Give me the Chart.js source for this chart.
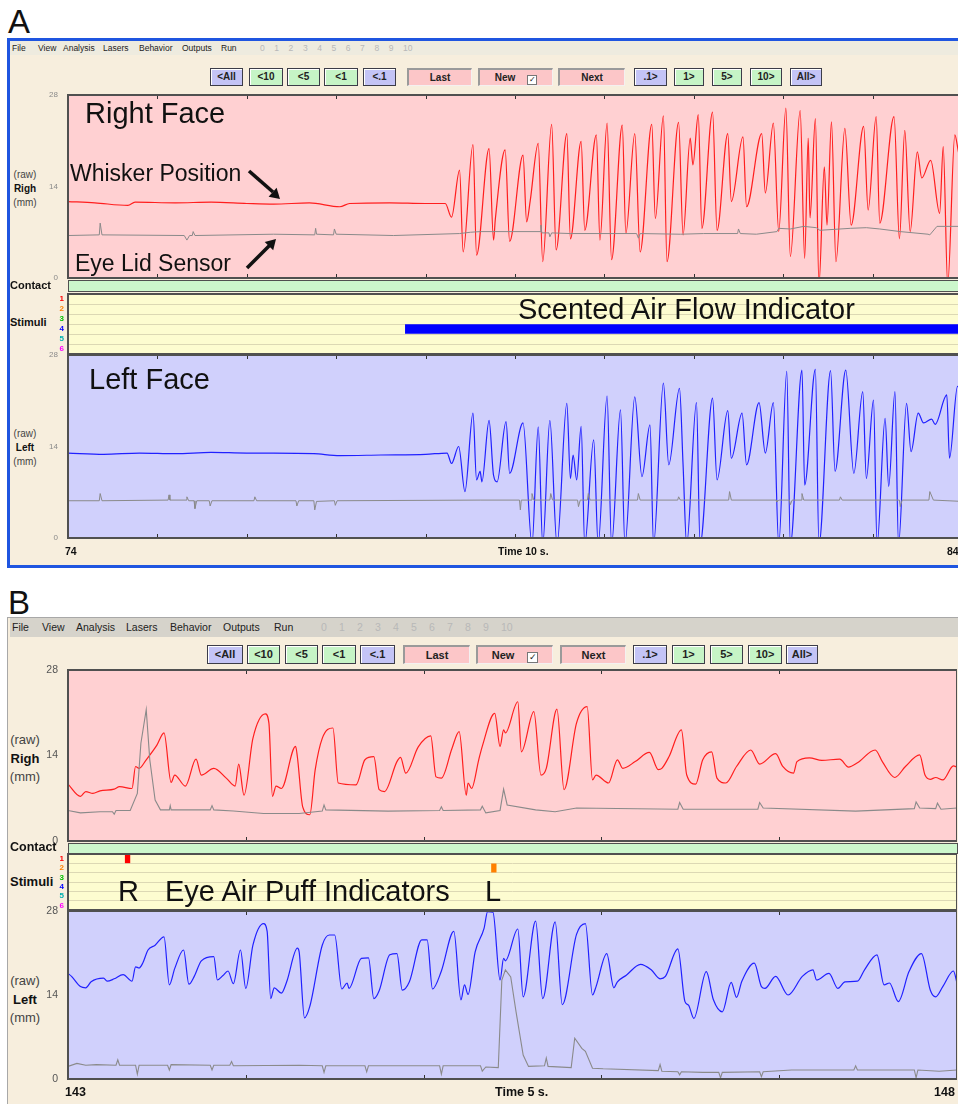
<!DOCTYPE html>
<html>
<head>
<meta charset="utf-8">
<script src="https://cdn.jsdelivr.net/npm/chart.js@4.4.0/dist/chart.umd.min.js"></script>
<style>
  html, body { margin: 0; padding: 0; width: 958px; height: 1104px; overflow: hidden; background: #fff; }
  #page { position: relative; width: 958px; height: 1104px; overflow: hidden; font-family: "Liberation Sans", Arial, sans-serif; }
  #page div, #page canvas { position: absolute; }
  .btn { box-sizing: border-box; font-family: "Liberation Sans Narrow", "Liberation Sans", sans-serif; font-weight: bold; color: #222; text-align: center; }
</style>
</head>
<body>
<div id="page"></div>
<script>
// ---- tick labels / categories ----
const aTimeTicks = [74, 75, 76, 77, 78, 79, 80, 81, 82, 83, 84];
const bTimeTicks = [143, 144, 145, 146, 147, 148];
const yTicks = [0, 14, 28];
const stimRows = ['1', '2', '3', '4', '5', '6'];
const stimRowColors = ['#ff0000', '#ff8000', '#00c000', '#0000ff', '#00b0b0', '#ff00ff'];
const menuItems = ['File', 'View', 'Analysis', 'Lasers', 'Behavior', 'Outputs', 'Run'];
const menuDigits = ['0', '1', '2', '3', '4', '5', '6', '7', '8', '9', '10'];
const buttonLabels = ['<All', '<10', '<5', '<1', '<.1', 'Last', 'New', 'Next', '.1>', '1>', '5>', '10>', 'All>'];

// ---- panel A series [time s, mm] ----
const aRightWhisker = [[74.00,11.7],[74.30,11.5],[74.67,11.1],[74.75,11.6],[75.20,11.5],[75.60,11.6],[76.00,11.4],[76.30,11.3],[76.70,11.5],[77.04,10.9],[77.15,11.4],[77.60,11.5],[78.00,11.4],[78.22,11.4],[78.29,9.3],[78.38,16.5],[78.42,4.0],[78.53,20.4],[78.57,3.5],[78.71,19.8],[78.76,5.8],[78.78,9.0],[78.89,19.6],[78.94,5.6],[79.09,18.8],[79.13,8.6],[79.17,11.8],[79.26,20.6],[79.31,2.5],[79.41,23.5],[79.46,4.3],[79.58,22.1],[79.62,6.0],[79.74,20.9],[79.78,7.3],[79.91,21.9],[79.95,5.8],[80.03,23.7],[80.08,2.8],[80.20,23.4],[80.24,6.8],[80.34,22.1],[80.40,4.0],[80.53,23.5],[80.57,9.1],[80.66,24.8],[80.70,2.5],[80.83,23.8],[80.88,6.6],[80.96,21.4],[80.99,17.3],[81.05,25.0],[81.09,7.6],[81.21,25.4],[81.26,7.3],[81.38,22.1],[81.42,11.7],[81.55,21.6],[81.59,10.9],[81.76,22.1],[81.80,13.0],[81.89,23.7],[81.95,7.1],[82.03,26.0],[82.08,3.3],[82.19,25.6],[82.24,3.0],[82.28,21.4],[82.30,9.2],[82.36,24.4],[82.40,-1],[82.46,17.0],[82.49,8.1],[82.54,23.9],[82.59,2.5],[82.69,22.9],[82.76,8.1],[82.90,23.2],[82.95,10.4],[83.04,24.7],[83.08,8.4],[83.24,24.7],[83.30,6.0],[83.36,22.6],[83.42,7.1],[83.50,19.3],[83.55,15.3],[83.65,18.0],[83.75,9.9],[83.79,20.1],[83.84,-1],[83.92,21.9],[83.96,19.3],[84.00,17.0]];
const aRightLid = [[74.00,6.5],[74.35,6.6],[74.36,8.4],[74.38,6.6],[75.30,6.5],[75.33,5.8],[75.36,6.5],[75.39,6.5],[75.40,7.1],[75.42,6.5],[76.30,6.7],[76.76,6.6],[76.77,7.6],[76.78,6.7],[76.97,6.6],[76.98,7.5],[77.00,6.7],[77.64,6.5],[78.38,6.8],[78.50,7.0],[78.61,7.1],[79.28,7.1],[79.29,8.1],[79.30,6.9],[79.38,6.9],[79.39,6.3],[79.41,6.9],[79.62,6.8],[80.36,6.8],[80.38,6.1],[80.40,6.8],[80.85,6.7],[81.11,6.8],[81.49,6.8],[81.50,7.5],[81.52,6.8],[81.70,6.7],[81.93,7.1],[81.95,7.6],[82.08,7.5],[82.23,7.9],[82.37,7.7],[82.41,7.3],[82.75,7.6],[82.93,7.7],[83.08,7.5],[83.31,7.1],[83.62,6.7],[83.64,6.6],[83.72,7.9],[83.96,7.9],[84.00,7.9]];
const aLeftWhisker = [[74.00,13.0],[74.40,12.8],[74.80,13.0],[75.20,12.9],[75.60,13.1],[76.00,13.0],[76.30,13.0],[76.75,12.9],[77.04,12.6],[77.50,12.7],[78.00,12.8],[78.24,13.0],[78.29,11.4],[78.37,14.0],[78.44,7.1],[78.53,19.1],[78.57,8.9],[78.61,10.2],[78.63,8.6],[78.71,18.0],[78.76,9.6],[78.80,8.6],[78.90,17.8],[78.94,9.9],[79.09,17.6],[79.19,-1],[79.26,17.0],[79.31,-1],[79.39,18.0],[79.47,-1],[79.58,20.6],[79.62,9.1],[79.65,12.7],[79.69,8.9],[79.74,17.1],[79.78,-1],[79.88,15.0],[79.93,-1],[80.03,21.7],[80.08,-1],[80.18,19.6],[80.23,-1],[80.34,21.6],[80.42,9.4],[80.51,17.3],[80.55,-1],[80.66,23.7],[80.72,11.2],[80.84,22.9],[80.88,11.2],[80.92,-1],[81.03,20.7],[81.07,-1],[81.21,21.4],[81.26,8.9],[81.38,19.5],[81.42,12.2],[81.54,19.1],[81.59,11.2],[81.73,20.7],[81.80,13.0],[81.89,20.7],[81.95,-1],[82.04,25.5],[82.08,-1],[82.21,25.7],[82.24,8.1],[82.36,25.8],[82.40,-1],[82.53,25.6],[82.58,10.2],[82.70,25.7],[82.79,9.9],[82.89,22.4],[82.93,9.1],[83.01,21.1],[83.05,-1],[83.14,18.3],[83.18,7.9],[83.25,22.4],[83.29,-1],[83.38,20.6],[83.43,13.2],[83.51,19.1],[83.57,17.6],[83.66,18.2],[83.70,17.4],[83.83,21.9],[83.86,12.2],[83.95,23.2],[84.00,22.0]];
const aLeftLid = [[74.00,5.7],[74.35,5.7],[74.36,6.8],[74.38,5.7],[75.12,5.8],[75.13,6.6],[75.14,5.8],[75.32,5.8],[75.33,6.3],[75.35,5.7],[75.41,5.7],[75.42,4.5],[75.44,5.7],[75.58,5.7],[75.59,4.9],[75.61,5.7],[76.08,5.7],[76.09,6.3],[76.11,5.7],[76.55,5.7],[76.56,4.9],[76.58,5.7],[76.75,5.7],[76.76,4.3],[76.78,5.6],[76.98,5.7],[76.99,5.0],[77.01,5.7],[78.61,5.8],[79.05,5.8],[79.06,4.3],[79.07,5.8],[79.18,5.8],[79.19,6.8],[79.21,5.8],[79.39,5.8],[79.40,6.8],[79.42,5.8],[79.70,5.8],[79.71,4.8],[79.73,5.8],[79.81,5.8],[79.82,6.8],[79.84,5.8],[80.37,5.8],[80.38,6.8],[80.40,5.8],[80.82,5.8],[80.83,6.3],[80.85,5.8],[81.39,5.8],[81.40,7.1],[81.42,5.8],[81.92,5.8],[81.93,5.5],[81.95,5.8],[82.07,5.8],[82.08,5.1],[82.10,5.8],[82.20,5.8],[82.21,6.8],[82.23,5.8],[82.63,5.8],[82.64,6.3],[82.66,5.8],[83.30,5.8],[83.31,4.8],[83.33,5.8],[83.63,5.8],[83.64,7.1],[83.68,5.8],[84.00,5.6]];
const aStimBars = [null, null, null, [77.77, 85], null, null];

// ---- panel B series [time s, mm] ----
const bRightWhisker = [[143.00,9.3],[143.07,7.3],[143.10,8.1],[143.14,7.8],[143.18,8.2],[143.26,8.5],[143.29,8.9],[143.36,8.6],[143.38,12.2],[143.40,11.9],[143.44,13.3],[143.50,15.7],[143.54,17.7],[143.58,9.6],[143.60,10.8],[143.66,9.0],[143.72,13.4],[143.75,10.8],[143.82,11.9],[143.89,10.3],[143.94,9.0],[143.96,12.6],[143.99,7.5],[144.04,16.8],[144.11,20.8],[144.13,19.3],[144.15,7.3],[144.17,9.0],[144.20,8.6],[144.28,15.5],[144.29,13.8],[144.32,5.6],[144.36,4.3],[144.39,11.6],[144.43,16.8],[144.49,18.5],[144.52,9.5],[144.62,9.2],[144.67,13.3],[144.72,13.8],[144.75,8.4],[144.78,8.1],[144.85,13.0],[144.87,13.7],[144.90,11.1],[144.97,15.4],[145.04,17.2],[145.07,10.5],[145.10,10.3],[145.16,15.2],[145.20,17.9],[145.24,7.5],[145.25,9.5],[145.27,8.6],[145.31,13.3],[145.33,15.5],[145.40,20.9],[145.43,15.5],[145.45,18.2],[145.46,17.7],[145.53,22.8],[145.55,14.6],[145.62,21.2],[145.66,10.8],[145.69,11.9],[145.75,21.6],[145.79,8.4],[145.86,19.3],[145.92,22.0],[145.95,10.0],[145.97,10.8],[146.04,9.5],[146.09,13.3],[146.12,11.9],[146.19,13.0],[146.27,14.5],[146.32,11.7],[146.34,11.9],[146.38,13.8],[146.45,18.2],[146.48,10.8],[146.53,9.3],[146.57,13.3],[146.62,14.6],[146.65,10.3],[146.70,9.5],[146.76,12.2],[146.84,14.9],[146.89,12.6],[146.98,14.3],[147.02,12.2],[147.08,11.1],[147.10,13.0],[147.17,13.6],[147.24,13.2],[147.34,13.4],[147.39,12.1],[147.44,12.8],[147.54,14.9],[147.58,13.0],[147.65,10.4],[147.71,12.2],[147.79,14.1],[147.82,10.8],[147.85,10.1],[147.88,10.4],[147.92,10.0],[147.98,12.3],[148.00,12.1]];
const bRightLid = [[143.00,5.0],[143.07,4.6],[143.18,4.8],[143.25,4.8],[143.26,4.4],[143.27,5.0],[143.35,5.0],[143.39,7.8],[143.41,16.0],[143.44,21.5],[143.46,13.3],[143.49,6.7],[143.52,5.1],[143.57,5.1],[143.575,5.8],[143.58,5.1],[143.80,5.1],[143.81,5.8],[143.82,5.1],[143.93,4.9],[144.10,4.5],[144.30,4.5],[144.43,4.9],[144.44,5.9],[144.45,5.1],[144.80,4.9],[145.09,5.0],[145.10,5.6],[145.11,5.0],[145.32,5.1],[145.33,5.7],[145.35,4.6],[145.43,5.0],[145.45,8.5],[145.47,5.9],[145.63,5.1],[145.74,4.8],[145.86,5.4],[146.43,5.2],[146.44,6.3],[146.46,5.2],[146.88,5.2],[146.89,6.3],[146.91,5.4],[147.43,4.9],[147.76,5.3],[147.77,6.4],[147.79,5.4],[147.88,5.3],[147.89,6.2],[147.91,5.2],[148.00,5.4]];
const bLeftWhisker = [[143.00,17.6],[143.02,17.1],[143.07,15.4],[143.10,15.2],[143.13,16.2],[143.20,16.8],[143.22,16.3],[143.26,16.7],[143.31,17.4],[143.36,16.3],[143.38,18.7],[143.40,18.5],[143.42,19.3],[143.45,21.5],[143.49,22.3],[143.54,23.7],[143.57,15.7],[143.60,18.4],[143.65,21.5],[143.68,15.8],[143.71,17.1],[143.75,19.7],[143.82,20.4],[143.84,16.5],[143.87,17.2],[143.90,18.0],[143.93,15.9],[143.97,21.5],[144.00,15.1],[144.04,22.3],[144.10,25.9],[144.12,24.6],[144.14,13.4],[144.16,15.2],[144.20,14.3],[144.23,16.2],[144.29,21.8],[144.30,21.2],[144.33,10.2],[144.36,12.1],[144.43,22.3],[144.47,24.0],[144.50,24.0],[144.54,15.0],[144.57,16.0],[144.58,15.1],[144.65,20.1],[144.69,20.2],[144.72,13.4],[144.75,14.7],[144.81,20.7],[144.85,20.9],[144.88,14.8],[144.92,16.2],[144.99,23.2],[145.02,23.2],[145.05,15.0],[145.10,18.0],[145.17,24.6],[145.21,13.2],[145.23,15.7],[145.25,14.1],[145.29,21.2],[145.34,25.1],[145.36,27.9],[145.39,27.8],[145.43,16.5],[145.45,20.1],[145.46,19.7],[145.53,25.0],[145.56,13.7],[145.63,26.3],[145.67,13.4],[145.74,26.2],[145.78,12.4],[145.86,24.1],[145.91,25.9],[145.95,14.0],[145.97,15.4],[146.03,20.9],[146.07,15.2],[146.09,16.2],[146.14,17.3],[146.22,19.1],[146.28,18.2],[146.33,16.7],[146.36,17.1],[146.43,21.7],[146.47,12.9],[146.49,12.3],[146.52,10.1],[146.59,17.9],[146.63,13.2],[146.68,11.2],[146.73,16.1],[146.76,13.6],[146.79,16.3],[146.86,19.3],[146.90,15.4],[146.92,15.1],[146.98,17.1],[147.05,14.0],[147.13,17.1],[147.19,18.2],[147.21,16.5],[147.28,17.6],[147.33,15.1],[147.37,16.2],[147.44,16.3],[147.48,18.2],[147.55,20.7],[147.59,15.7],[147.62,16.0],[147.67,12.9],[147.73,17.9],[147.80,20.9],[147.85,14.8],[147.88,13.7],[147.92,15.4],[147.98,18.0],[148.00,16.0]];
const bLeftLid = [[143.00,2.1],[143.05,2.6],[143.10,2.3],[143.16,2.4],[143.27,2.3],[143.28,3.2],[143.29,2.3],[143.38,2.3],[143.39,0.8],[143.40,2.3],[143.56,2.3],[143.57,1.5],[143.58,2.4],[143.80,2.3],[143.81,1.5],[143.82,2.3],[143.91,2.3],[143.92,2.9],[143.93,2.2],[144.30,2.3],[144.43,2.2],[144.44,1.1],[144.45,2.2],[144.67,2.2],[144.68,1.2],[144.69,2.2],[145.09,2.2],[145.10,0.8],[145.11,2.2],[145.32,2.2],[145.33,1.3],[145.35,2.0],[145.42,1.9],[145.44,16.5],[145.46,18.2],[145.49,17.0],[145.52,11.2],[145.56,4.0],[145.59,2.1],[145.68,2.2],[145.69,3.5],[145.70,2.1],[145.83,1.9],[145.85,6.8],[145.89,5.1],[145.91,4.6],[145.95,1.8],[146.01,1.7],[146.32,1.4],[146.33,2.4],[146.34,1.3],[146.43,1.2],[146.44,0.7],[146.45,1.2],[146.57,1.1],[146.66,1.1],[146.67,0.2],[146.68,1.1],[146.89,1.2],[146.90,0.4],[146.91,1.2],[147.07,1.5],[147.32,1.5],[147.42,1.5],[147.43,2.2],[147.44,1.5],[147.76,1.5],[147.77,0.2],[147.78,1.5],[147.90,1.3],[148.00,1.5]];
const bStimBars = [[143.32, 143.35], [145.38, 145.41], null, null, null, null];

// ---- page helpers ----
const page = document.getElementById('page');
function put(x, y, w, h, css, html) {
  const d = document.createElement('div');
  d.style.left = x + 'px'; d.style.top = y + 'px';
  if (w != null) d.style.width = w + 'px';
  if (h != null) d.style.height = h + 'px';
  if (css) d.style.cssText += css;
  if (html != null) d.innerHTML = html;
  page.appendChild(d);
  return d;
}
// text placed by baseline
function txt(x, base, size, str, css) {
  return put(x, base - 0.85 * size, null, null, 'font-size:' + size + 'px;line-height:' + size + 'px;white-space:nowrap;' + (css || ''), str);
}
function esc(s) { return s.replace(/</g, '&lt;').replace(/>/g, '&gt;'); }

const btnKind = ['b', 'g', 'g', 'g', 'b', 'p', 'p', 'p', 'b', 'g', 'g', 'g', 'b'];
const btnBg = { b: '#c4c4f6', g: '#c6f4c6', p: '#fcc6c8' };
function buttons(xs, ws, y, h, size) {
  buttonLabels.forEach((lab, i) => {
    const k = btnKind[i];
    const border = k === 'p'
      ? 'border-top:2px solid #9a9a9a;border-left:2px solid #9a9a9a;border-bottom:1px solid #f4f0f0;border-right:1px solid #f4f0f0;'
      : 'border:1px solid #3c3c48;box-shadow:inset 1px 1px 0 #fff;';
    let inner = esc(lab);
    if (lab === 'New') inner = 'New<span style="display:inline-block;width:' + (size - 2) + 'px;height:' + (size - 2) + 'px;background:#fff;border:1px solid #777;margin-left:' + (size + 2) + 'px;font-size:' + (size - 2) + 'px;line-height:' + (size - 2) + 'px;vertical-align:-1px;font-family:DejaVu Sans;">&#10003;</span>';
    put(xs[i], y, ws[i], h, 'background:' + btnBg[k] + ';' + border + 'font-size:' + size + 'px;line-height:' + (h - 3) + 'px;', inner).className = 'btn';
  });
}

function menu(y, h, bg, xs, dx0, ddx, size) {
  put(10, y, 960, h, 'background:' + bg + ';');
  menuItems.forEach((m, i) => txt(xs[i], y + h / 2 + size * 0.36, size, m, 'color:#222;font-family:Liberation Sans Narrow, Liberation Sans;'));
  menuDigits.forEach((d, i) => txt(dx0 + i * ddx, y + h / 2 + size * 0.36, size, d, 'color:#b8b8b8;font-family:Liberation Sans Narrow, Liberation Sans;'));
}

function sideLabel(cy, size, name) {
  put(3, cy - size * 1.9, 44, null, 'text-align:center;font-size:' + size + 'px;line-height:' + (size * 1.4) + 'px;color:#444;',
    '(raw)<br><b style="color:#111">' + name + '</b><br>(mm)');
}

// ---- chart plugin: plot background, inward time ticks, frame ----
const panelLook = {
  id: 'panelLook',
  beforeDraw(chart, args, o) {
    const { ctx, chartArea: a } = chart;
    ctx.save();
    ctx.fillStyle = o.bg;
    ctx.fillRect(a.left, a.top, a.width, a.height);
    ctx.restore();
  },
  afterDraw(chart, args, o) {
    const { ctx, chartArea: a } = chart;
    const x = chart.scales.x;
    ctx.save();
    ctx.strokeStyle = '#333';
    ctx.lineWidth = 1;
    (o.ticks || []).forEach(t => {
      const px = Math.round(x.getPixelForValue(t)) + 0.5;
      ctx.beginPath();
      ctx.moveTo(px, a.top); ctx.lineTo(px, a.top + 4);
      ctx.moveTo(px, a.bottom); ctx.lineTo(px, a.bottom - 4);
      ctx.stroke();
    });
    ctx.strokeStyle = '#505050';
    ctx.lineWidth = 2;
    ctx.strokeRect(a.left, a.top, a.width, a.height);
    ctx.restore();
  }
};

function placeCanvas(chart, cv, px, py) {
  const a = chart.chartArea;
  cv.style.left = (px - a.left) + 'px';
  cv.style.top = (py - a.top) + 'px';
}

const AXW = 28, PAD = 10;
function traceChart(p, series, t0, t1, ticks, bg, tickSize, tickColor) {
  const cv = document.createElement('canvas');
  cv.width = p.w + AXW; cv.height = p.h + 2 * PAD;
  cv.style.left = (p.x - AXW) + 'px'; cv.style.top = (p.y - PAD) + 'px';
  page.appendChild(cv);
  const chart = new Chart(cv, {
    type: 'line',
    data: {
      datasets: series.map(s => ({
        data: s.d.map(q => ({ x: q[0], y: q[1] })),
        borderColor: s.c, borderWidth: s.w, pointRadius: 0,
        cubicInterpolationMode: s.smooth ? 'monotone' : 'default', tension: 0
      }))
    },
    options: {
      responsive: false, animation: false,
      layout: { padding: { top: PAD, bottom: PAD, left: 0, right: 0 } },
      plugins: { legend: { display: false }, tooltip: { enabled: false }, panelLook: { bg: bg, ticks: ticks } },
      scales: {
        x: { type: 'linear', min: t0, max: t1, display: false },
        y: {
          min: 0, max: 28,
          afterBuildTicks: s => { s.ticks = yTicks.map(v => ({ value: v })); },
          afterFit: s => { s.width = AXW; },
          grid: { display: false }, border: { display: false },
          ticks: { color: tickColor, padding: 2, font: { family: 'Liberation Sans', size: tickSize } }
        }
      }
    },
    plugins: [panelLook]
  });
  placeCanvas(chart, cv, p.x, p.y);
}

function stimChart(p, bars, colors, t0, t1, size) {
  const cv = document.createElement('canvas');
  cv.width = p.w + AXW; cv.height = p.h + 2 * PAD;
  cv.style.left = (p.x - AXW) + 'px'; cv.style.top = (p.y - PAD) + 'px';
  page.appendChild(cv);
  const chart = new Chart(cv, {
    type: 'bar',
    data: { labels: stimRows, datasets: [{ data: bars, backgroundColor: colors, barPercentage: 1, categoryPercentage: 0.96 }] },
    options: {
      indexAxis: 'y', responsive: false, animation: false,
      layout: { padding: { top: PAD, bottom: PAD, left: 0, right: 0 } },
      plugins: { legend: { display: false }, tooltip: { enabled: false }, panelLook: { bg: '#fdfcd0', ticks: [] } },
      scales: {
        x: { type: 'linear', min: t0, max: t1, display: false },
        y: {
          afterFit: s => { s.width = AXW; },
          grid: { color: '#dcd8b4', lineWidth: 1, drawTicks: false },
          border: { display: false },
          ticks: { autoSkip: false, padding: 4, color: c => stimRowColors[c.index], font: { family: 'Liberation Sans', weight: 'bold', size: size } }
        }
      }
    },
    plugins: [panelLook]
  });
  placeCanvas(chart, cv, p.x, p.y);
}

// ================= PANEL A =================
txt(8, 33, 33, 'A', 'font-family:Liberation Sans Narrow, Liberation Sans;color:#111;');
put(7, 38, 960, 524, 'background:#f7eedd;border-top:3px solid #1f55e0;border-left:3px solid #1f55e0;border-bottom:3px solid #1f55e0;');
menu(41, 14, '#eeebdf', [12, 38, 63, 103, 139, 182, 221], 260, 14.3, 8.5);
buttons([210, 249, 287, 324, 363, 407, 478, 558, 634, 674, 712, 750, 790],
        [33, 34, 33, 34, 33, 65, 75, 67, 33, 30, 30, 32, 32], 68, 18, 10);

sideLabel(187, 10, 'Righ');
traceChart({ x: 68, y: 95, w: 894, h: 183 },
  [{ d: aRightLid, c: '#8a8a8a', w: 1 }, { d: aRightWhisker, c: '#ff1e1e', w: 1.2, smooth: true }],
  74, 84, aTimeTicks, '#ffd0d2', 8, '#8a8a8a');

txt(10, 289, 11, 'Contact', 'font-weight:bold;color:#111;');
put(68, 280, 893, 10, 'background:#ccf7cc;border:1px solid #505050;');
txt(10, 326, 11, 'Stimuli', 'font-weight:bold;color:#111;');
stimChart({ x: 68, y: 294, w: 894, h: 60 }, aStimBars, '#0000ff', 74, 84, 8);

sideLabel(446, 10, 'Left');
traceChart({ x: 68, y: 355, w: 894, h: 183 },
  [{ d: aLeftLid, c: '#8a8a8a', w: 1 }, { d: aLeftWhisker, c: '#2020ff', w: 1.2, smooth: true }],
  74, 84, aTimeTicks, '#d0d0fc', 8, '#8a8a8a');

txt(65, 555, 10.5, '74', 'font-weight:bold;color:#111;');
txt(498, 555, 10.5, 'Time 10 s.', 'font-weight:bold;color:#111;');
txt(947, 555, 10.5, '84', 'font-weight:bold;color:#111;');

// annotations A
txt(85, 124, 29, 'Right Face', 'color:#111;');
txt(70, 182, 23, 'Whisker Position', 'color:#111;');
txt(75, 272, 23, 'Eye Lid Sensor', 'color:#111;');
txt(518, 320, 29, 'Scented Air Flow Indicator', 'color:#111;');
txt(89, 390, 29, 'Left Face', 'color:#111;');

// ================= PANEL B =================
txt(8, 614, 33, 'B', 'font-family:Liberation Sans Narrow, Liberation Sans;color:#111;');
put(7, 617, 960, 486, 'background:#f7eedd;border-top:1px solid #a8a8a8;border-left:1px solid #a8a8a8;border-bottom:1px solid #a8a8a8;');
menu(618, 19, '#d6d3cb', [12, 42, 76, 126, 170, 223, 274], 321, 18, 10.5);
buttons([207, 247, 285, 322, 360, 403, 476, 560, 633, 672, 710, 748, 786],
        [36, 33, 33, 34, 35, 67, 77, 66, 34, 33, 33, 34, 32], 645, 19, 11);

sideLabel(756, 13, 'Righ');
traceChart({ x: 68, y: 670, w: 889, h: 171 },
  [{ d: bRightLid, c: '#8a8a8a', w: 1.1 }, { d: bRightWhisker, c: '#ff1e1e', w: 1.2, smooth: true }],
  143, 148, bTimeTicks, '#ffd0d2', 10.5, '#555');

txt(10, 852, 12.5, 'Contact', 'font-weight:bold;color:#111;');
put(68, 843, 888, 9, 'background:#ccf7cc;border:1px solid #505050;');
txt(10, 886, 13, 'Stimuli', 'font-weight:bold;color:#111;');
stimChart({ x: 68, y: 854, w: 889, h: 56 }, bStimBars, ['#ff0000', '#ff8000'], 143, 148, 8);

sideLabel(997, 13, 'Left');
traceChart({ x: 68, y: 911, w: 889, h: 168 },
  [{ d: bLeftLid, c: '#8a8a8a', w: 1.1 }, { d: bLeftWhisker, c: '#2020ff', w: 1.2, smooth: true }],
  143, 148, bTimeTicks, '#d0d0fc', 10.5, '#555');

txt(65, 1097, 12.5, '143', 'font-weight:bold;color:#111;');
txt(495, 1097, 12.5, 'Time 5 s.', 'font-weight:bold;color:#111;');
txt(934, 1097, 12.5, '148', 'font-weight:bold;color:#111;');

txt(118, 902, 29, 'R', 'color:#111;');
txt(165, 902, 29, 'Eye Air Puff Indicators', 'color:#111;');
txt(485, 902, 29, 'L', 'color:#111;');

// arrows
const svgNS = 'http://www.w3.org/2000/svg';
const svg = document.createElementNS(svgNS, 'svg');
svg.setAttribute('width', 958); svg.setAttribute('height', 1104);
svg.style.cssText = 'position:absolute;left:0;top:0;pointer-events:none;';
svg.innerHTML =
  '<line x1="249" y1="171" x2="273" y2="192" stroke="#111" stroke-width="3.5"/>' +
  '<polygon points="280,199 268.6,196.8 276.6,187.8" fill="#111"/>' +
  '<line x1="247" y1="268" x2="270" y2="245" stroke="#111" stroke-width="3.5"/>' +
  '<polygon points="276,239 273.2,250.3 264.7,241.9" fill="#111"/>';
page.appendChild(svg);
</script>
</body>
</html>
